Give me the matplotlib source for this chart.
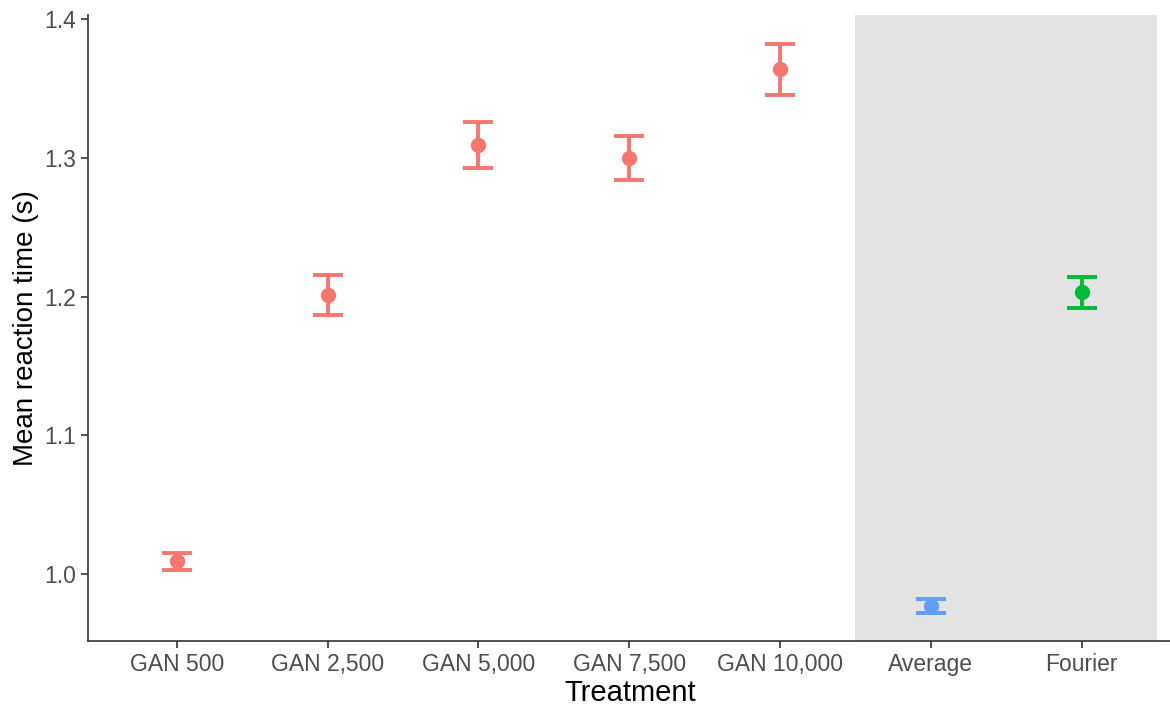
import matplotlib
matplotlib.use("Agg")
import matplotlib.pyplot as plt
from matplotlib.patches import Rectangle

treatments = ["GAN 500", "GAN 2,500", "GAN 5,000", "GAN 7,500", "GAN 10,000", "Average", "Fourier"]
means = [1.0094, 1.2011, 1.3092, 1.2998, 1.3640, 0.9769, 1.2032]
lower = [1.0029, 1.1867, 1.2926, 1.2840, 1.3452, 0.9719, 1.1917]
upper = [1.0151, 1.2155, 1.3258, 1.3157, 1.3820, 0.9820, 1.2140]
colors = ["#F8766D"] * 5 + ["#619CFF", "#00BA38"]

plt.rcParams["font.family"] = ["Liberation Sans", "DejaVu Sans"]

fig = plt.figure(figsize=(11.70, 7.06), dpi=100)
ax = fig.add_axes([88 / 1170, 65 / 706, (1172 - 88) / 1170, (641 - 15) / 706])

x = list(range(1, len(treatments) + 1))
# shaded panel behind the control treatments
ax.add_patch(Rectangle((5.5, 0.9), 2.0, 0.6, facecolor="#E3E3E3", edgecolor="none", zorder=0))

for xi, m, lo, hi, c in zip(x, means, lower, upper, colors):
    ax.errorbar([xi], [m], yerr=[[m - lo], [hi - m]], fmt="o", color=c, ms=10,
                elinewidth=2.8, capsize=11, capthick=2.8, zorder=3)

ax.set_xlim(0.41, 7.6)
ax.set_ylim(0.9517, 1.4029)
ax.set_xticks(x)
ax.set_xticklabels(treatments)
ax.set_yticks([1.0, 1.1, 1.2, 1.3, 1.4])
ax.set_yticklabels(["1.0", "1.1", "1.2", "1.3", "1.4"])
ax.tick_params(axis="both", labelsize=16.5, labelcolor="#4D4D4D", color="#333333",
               length=5, width=1.2)
for s in ["top", "right"]:
    ax.spines[s].set_visible(False)
for s in ["left", "bottom"]:
    ax.spines[s].set_linewidth(1.2)
    ax.spines[s].set_color("#333333")

ax.set_xlabel("Treatment", fontsize=21, labelpad=2)
ax.set_ylabel("Mean reaction time (s)", fontsize=20, labelpad=4)

fig.savefig("out.png", dpi=100)
